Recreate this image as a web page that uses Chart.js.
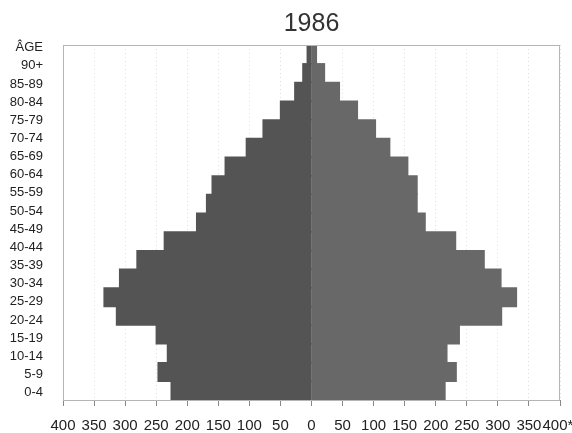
<!DOCTYPE html>
<html>
<head>
<meta charset="utf-8">
<script src="https://cdn.jsdelivr.net/npm/chart.js@4/dist/chart.umd.min.js"></script>
<style>
    body { margin: 0; background: #fff; }
    #wrap { width: 572px; height: 433px; }
</style>
</head>
<body>
<div id="wrap"><canvas id="pyramid"></canvas></div>
<script>
// Age groups, bottom to top
const AGES = ['0-4', '5-9', '10-14', '15-19', '20-24', '25-29', '30-34', '35-39', '40-44',
    '45-49', '50-54', '55-59', '60-64', '65-69', '70-74', '75-79', '80-84', '85-89', '90+'];
// Labels down the left side (the header sits on top)
const AGE_LABELS = AGES.concat(['ÂGE']);

// Left half and right half of the pyramid (thousands)
const LEFT_VALUES = [226, 247, 232, 250, 314, 334, 309, 281, 237, 185, 169, 160, 139, 105, 78, 50, 27, 14, 7];
const RIGHT_VALUES = [215, 233, 218, 238, 306, 330, 305, 278, 232, 183, 170, 170, 155, 126, 103, 74, 45, 21, 8];

// Bottom axis labels, left to right
const X_TICK_LABELS = ['400', '350', '300', '250', '200', '150', '100', '50', '0',
    '50', '100', '150', '200', '250', '300', '350', '400* '];

const FONT = '"Liberation Sans", Arial, Helvetica, sans-serif';

// light frame round the plot area
const framePlugin = {
    id: 'frame',
    afterDatasetsDraw(chart) {
        const { ctx, chartArea: a } = chart;
        ctx.save();
        ctx.strokeStyle = '#b5b5b5';
        ctx.lineWidth = 1;
        ctx.strokeRect(a.left + 0.5, a.top + 0.5, a.right - a.left - 1, a.bottom - a.top);
        ctx.restore();
    }
};

new Chart(document.getElementById('pyramid'), {
    type: 'bar',
    data: {
        labels: AGES,
        datasets: [
            {
                label: 'left',
                data: LEFT_VALUES.map(v => -v),
                backgroundColor: '#545454',
                barPercentage: 1,
                categoryPercentage: 1,
                inflateAmount: 0.6,
                yAxisID: 'y'
            },
            {
                label: 'right',
                data: RIGHT_VALUES,
                backgroundColor: '#686868',
                barPercentage: 1,
                categoryPercentage: 1,
                inflateAmount: 0.6,
                yAxisID: 'y'
            }
        ]
    },
    options: {
        indexAxis: 'y',
        responsive: true,
        maintainAspectRatio: false,
        animation: false,
        layout: { padding: 0 },
        plugins: {
            legend: { display: false },
            tooltip: { enabled: false },
            title: {
                display: true,
                text: '1986',
                fullSize: false,
                color: '#333',
                font: { family: FONT, size: 25, weight: 'normal' },
                padding: { top: 9, bottom: 6 }
            }
        },
        scales: {
            x: {
                type: 'linear',
                stacked: true,
                min: -400,
                max: 400,
                ticks: {
                    stepSize: 50,
                    autoSkip: false,
                    maxRotation: 0,
                    padding: 11,
                    color: '#222',
                    font: { family: FONT, size: 15 },
                    callback: (value, index) => X_TICK_LABELS[index]
                },
                grid: {
                    color: ctx => (ctx.tick && ctx.tick.value === 0) ? 'rgba(0,0,0,0)' : 'rgba(0,0,0,0.13)',
                    tickColor: '#888',
                    tickLength: 6,
                    drawTicks: true
                },
                border: { display: true, color: '#888', dash: [1, 3] },
                afterFit: scale => {
                    scale.height = 33;
                    scale.paddingLeft = 0;
                    scale.paddingRight = 12;
                }
            },
            y: {
                type: 'category',
                stacked: true,
                reverse: true,
                offset: true,
                ticks: { display: false },
                grid: { display: false },
                border: { display: false },
                afterFit: scale => { scale.width = 0; }
            },
            yl: {
                type: 'linear',
                position: 'left',
                min: 0.08,
                max: 18.66,
                afterBuildTicks: scale => {
                    scale.ticks = AGE_LABELS.map((_, i) => ({ value: i }));
                },
                ticks: {
                    autoSkip: false,
                    padding: 20,
                    color: '#222',
                    font: { family: FONT, size: 13 },
                    callback: value => AGE_LABELS[value]
                },
                grid: { display: false, drawTicks: false },
                border: { display: false },
                afterFit: scale => {
                    scale.width = 63;
                    scale.paddingTop = 0;
                    scale.paddingBottom = 0;
                }
            }
        }
    },
    plugins: [framePlugin]
});
</script>
</body>
</html>
